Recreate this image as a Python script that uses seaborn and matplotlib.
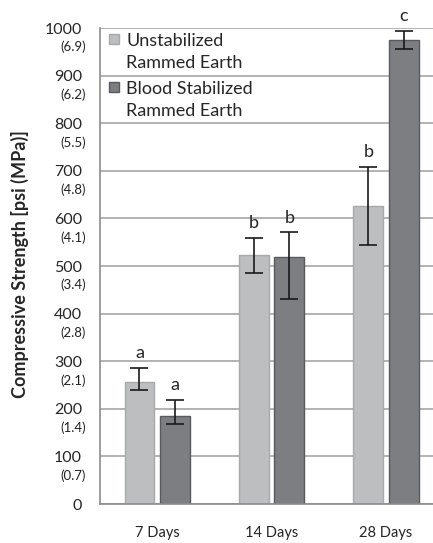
import matplotlib
matplotlib.use("Agg")
import matplotlib.pyplot as plt
from matplotlib.patches import Rectangle
import seaborn as sns
import pandas as pd

# values (psi)
ages = ["7 Days", "14 Days", "28 Days"]
unstab = [257, 524, 627]
unstab_lo = [17, 39, 82]
unstab_hi = [29, 35, 82]
blood = [185, 519, 974]
blood_lo = [16, 89, 19]
blood_hi = [34, 52, 20]
letters_unstab = ["a", "b", "b"]
letters_blood = ["a", "b", "c"]
psi_ticks = [0, 100, 200, 300, 400, 500, 600, 700, 800, 900, 1000]
mpa_labels = ["(0.7)", "(1.4)", "(2.1)", "(2.8)", "(3.4)", "(4.1)", "(4.8)", "(5.5)", "(6.2)", "(6.9)"]

lab_u = "Unstabilized\nRammed Earth"
lab_b = "Blood Stabilized\nRammed Earth"
df = pd.DataFrame({
    "Age": ages * 2,
    "Strength": unstab + blood,
    "Mix": [lab_u] * 3 + [lab_b] * 3,
})

sns.set_style("white")
plt.rcParams["font.family"] = ["Lato", "DejaVu Sans"]

fig = plt.figure(figsize=(4.33, 5.43), dpi=100)
ax = fig.add_axes([100 / 433, 39 / 543, 333 / 433, 476 / 543])

colors = {lab_u: "#bdbec0", lab_b: "#7d7e81"}
edges = {lab_u: "#a8a9ab", lab_b: "#595a5d"}
sns.barplot(data=df, x="Age", y="Strength", hue="Mix", palette=colors,
            width=0.62, gap=0.16, errorbar=None, saturation=1, legend=False, ax=ax)

# seaborn draws patches hue by hue
bars = ax.patches[:6]
for i, p in enumerate(bars):
    p.set_edgecolor(edges[lab_u] if i < 3 else edges[lab_b])
    p.set_linewidth(1.0)

vals = unstab + blood
lo = unstab_lo + blood_lo
hi = unstab_hi + blood_hi
letters = letters_unstab + letters_blood
for i, p in enumerate(bars):
    xc = p.get_x() + p.get_width() / 2
    ax.errorbar(xc, vals[i], yerr=[[lo[i]], [hi[i]]], color="#1a1a1a",
                elinewidth=1.2, capsize=6.5, capthick=1.2)
    ax.text(xc, vals[i] + hi[i] + 14, letters[i], ha="center", va="bottom",
            fontsize=13, clip_on=False)

ax.set_xlim(-0.5, 2.41)
ax.set_ylim(0, 1000)
ax.set_yticks(psi_ticks)
ax.set_yticklabels([str(t) for t in psi_ticks], fontsize=11.5)
ax.tick_params(axis="y", length=7, width=1.2, color="#888888", pad=6)
ax.tick_params(axis="x", length=0, labelsize=10.5, pad=16)
ax.yaxis.grid(True, color="#a6a6a6", linewidth=1.2)
ax.set_axisbelow(True)
for s in ["top", "right"]:
    ax.spines[s].set_visible(False)
for s in ["left", "bottom"]:
    ax.spines[s].set_color("#8c8c8c")
    ax.spines[s].set_linewidth(1.2)

trans = ax.get_yaxis_transform()
for t, m in zip(psi_ticks[1:], mpa_labels):
    ax.text(-0.042, t - 40, m, transform=trans, ha="right", va="center",
            fontsize=9.5, color="#222222")

ax.set_xlabel("")
ax.set_ylabel("Compressive Strength [psi (MPa)]", fontsize=13, fontweight="bold")
ax.yaxis.set_label_coords(-0.214, 0.505)

# legend drawn by hand so the square sits on the first line of each label
for k, (lab, top_px) in enumerate([(lab_u, 34), (lab_b, 82)]):
    x0 = (109 - 100) / 333
    y0 = (504 - top_px - 10) / 476
    ax.add_patch(Rectangle((x0, y0), 10 / 333, 10 / 476, transform=ax.transAxes,
                           facecolor=colors[lab], edgecolor=edges[lab],
                           linewidth=1.0, clip_on=False))
    ax.text((126 - 100) / 333, (504 - top_px + 1) / 476, lab, transform=ax.transAxes,
            ha="left", va="top", fontsize=13, linespacing=1.45)

fig.savefig("out.png", dpi=100)
